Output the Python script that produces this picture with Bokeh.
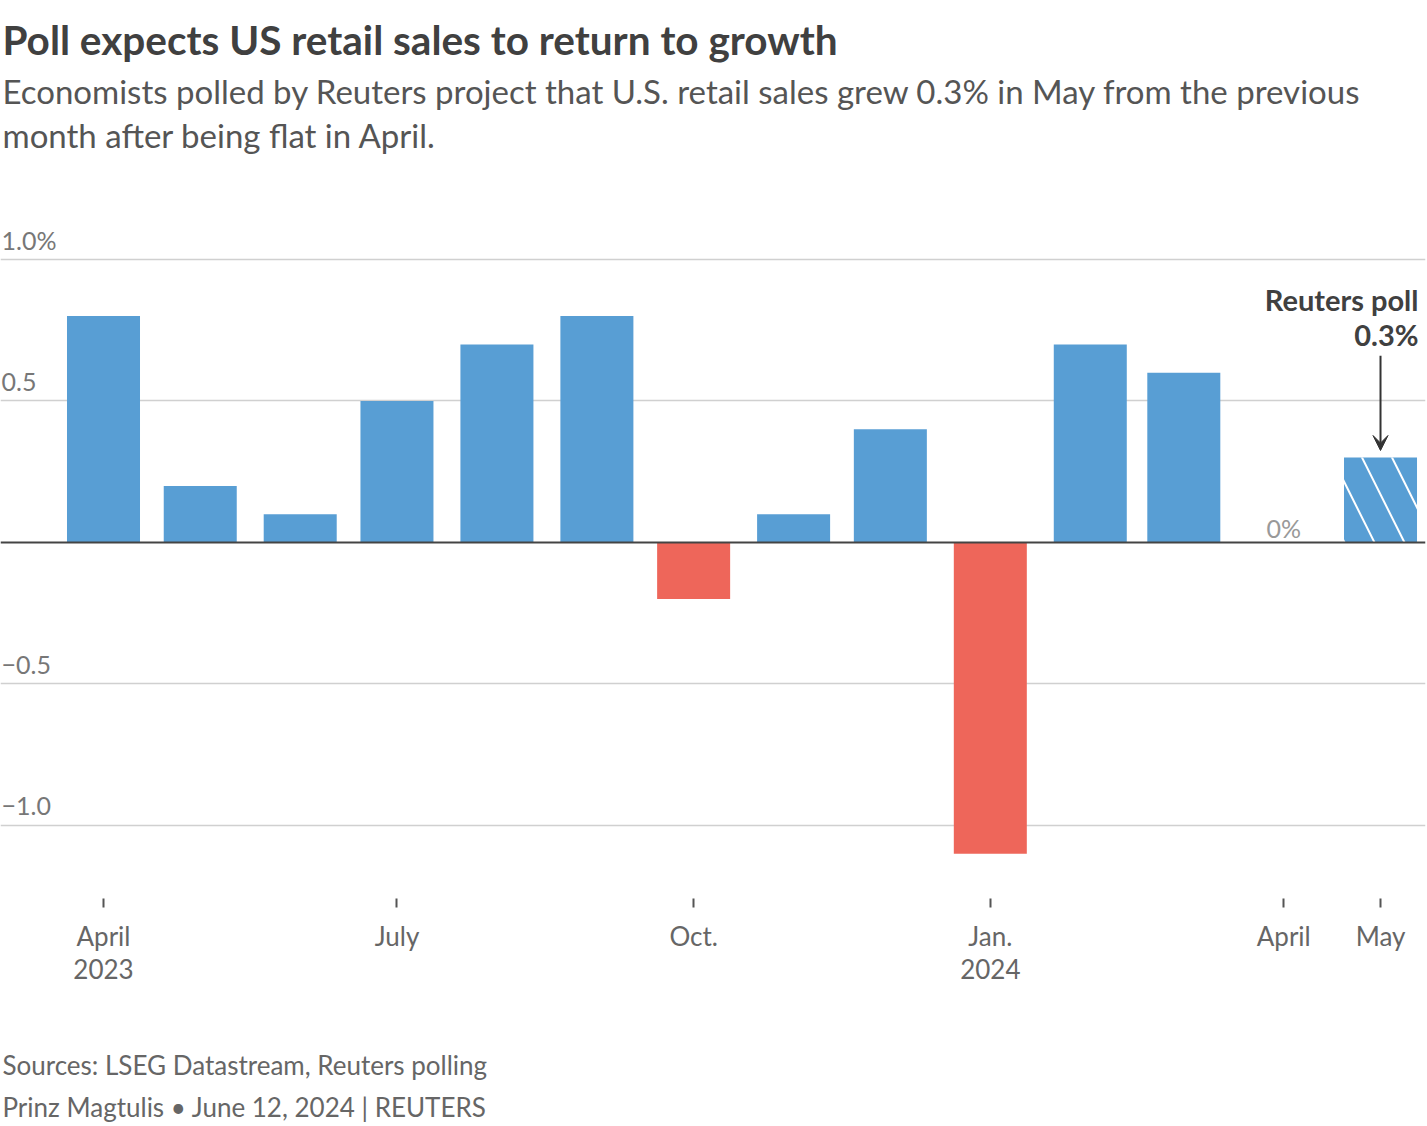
import pandas as pd
from bokeh.plotting import figure
from bokeh.layouts import column
from bokeh.models import ColumnDataSource, FixedTicker, Span, Label, Arrow, VeeHead, Range1d
from bokeh.core.properties import value
from bokeh.embed import file_html
from bokeh.resources import INLINE

# ---------------- data ----------------
months = ["2023-04", "2023-05", "2023-06", "2023-07", "2023-08", "2023-09", "2023-10",
          "2023-11", "2023-12", "2024-01", "2024-02", "2024-03", "2024-04"]
actual = [0.8, 0.2, 0.1, 0.5, 0.7, 0.8, -0.2, 0.1, 0.4, -1.1, 0.7, 0.6, 0.0]
poll_month = "2024-05"
poll_value = 0.3
y_ticks = [-1.0, -0.5, 0.5, 1.0]
y_tick_labels = ["\u22121.0", "\u22120.5", "0.5", "1.0%"]
x_tick_months = ["2023-04", "2023-07", "2023-10", "2024-01", "2024-04", "2024-05"]
x_tick_labels = ["April\n2023", "July", "Oct.", "Jan.\n2024", "April", "May"]

title = "Poll expects US retail sales to return to growth"
sub_lines = ["Economists polled by Reuters project that U.S. retail sales grew 0.3% in May from the previous",
             "month after being flat in April."]
source_lines = ["Sources: LSEG Datastream, Reuters polling",
                "Prinz Magtulis \u2022 June 12, 2024 | REUTERS"]

# ---------------- helpers ----------------
DAY = 86400000.0
def ms(m):
    return pd.Timestamp(m + "-01").value / 1e6

BLUE = "#589ed4"
RED = "#ee665a"
FONT = "Lato"
W = 1427

def text_panel(height, y_top):
    f = figure(width=W, height=height, output_backend="svg", toolbar_location=None,
               x_range=Range1d(0, W), y_range=Range1d(y_top + height, y_top),
               x_axis_location=None, y_axis_location=None, title=None,
               min_border_left=0, min_border_right=0, min_border_top=0, min_border_bottom=0)
    f.outline_line_color = None
    f.grid.visible = False
    f.background_fill_color = "white"
    f.border_fill_color = "white"
    return f

# ---------------- header ----------------
header = text_panel(225, 0)
header.text(x=[2], y=[38.8], text=[title], text_baseline="middle", text_align="left",
            text_font=value(FONT), text_font_style="bold", text_font_size="40.5px",
            text_color="#404040")
header.text(x=[2, 2], y=[90.2, 134.2], text=sub_lines, text_baseline="middle", text_align="left",
            text_font=value(FONT), text_font_size="33px", text_color="#555555")

# ---------------- main chart ----------------
xs = [ms(m) for m in months]
colors = [BLUE if v >= 0 else RED for v in actual]
src = ColumnDataSource(dict(x=xs, top=actual, color=colors))

x_start = ms("2023-04") - 31.94 * DAY
x_end = ms("2024-05") + 13.95 * DAY
bar_w = 22.64 * DAY

p = figure(width=W, height=775, output_backend="svg", toolbar_location=None,
           x_axis_type="datetime", y_axis_location=None,
           x_range=Range1d(x_start, x_end), y_range=Range1d(-1.258, 1.1201),
           min_border_left=0, min_border_right=2, min_border_top=0, min_border_bottom=102,
           title=None)
p.outline_line_color = None
p.background_fill_color = "white"
p.border_fill_color = "white"

p.xgrid.visible = False
p.ygrid.ticker = FixedTicker(ticks=y_ticks)
p.ygrid.grid_line_color = "#d0d0d0"
p.ygrid.grid_line_width = 1.5

p.vbar(x="x", top="top", bottom=0, width=bar_w, source=src,
       fill_color="color", line_color=None)
p.vbar(x=[ms(poll_month)], top=[poll_value], bottom=0, width=bar_w,
       fill_color=BLUE, line_color=None,
       hatch_pattern="\\", hatch_color="white", hatch_weight=2, hatch_scale=60)

p.add_layout(Span(location=0, dimension="width", line_color="#444444", line_width=2))

p.text(x=[x_start] * len(y_ticks), y=y_ticks, text=y_tick_labels,
       x_offset=1, y_offset=-19, text_baseline="middle", text_align="left",
       text_font=value(FONT), text_font_size="25px", text_color="#777777")

zx = [x for x, v in zip(xs, actual) if v == 0]
p.text(x=zx, y=[0] * len(zx), text=["0%"] * len(zx), y_offset=-14,
       text_baseline="middle", text_align="center",
       text_font=value(FONT), text_font_size="25px", text_color="#999999")

tick_ms = [ms(m) for m in x_tick_months]
p.xaxis.ticker = FixedTicker(ticks=tick_ms)
p.xaxis.major_label_overrides = {t: l for t, l in zip(tick_ms, x_tick_labels)}
p.xaxis.axis_line_color = None
p.xaxis.major_tick_line_color = "#555555"
p.xaxis.major_tick_line_width = 2
p.xaxis.major_tick_in = 0
p.xaxis.major_tick_out = 9
p.xaxis.minor_tick_line_color = None
p.xaxis.major_label_standoff = 12
p.xaxis.major_label_text_font = FONT
p.xaxis.major_label_text_font_size = "26px"
p.xaxis.major_label_text_color = "#666666"
p.xaxis.major_label_text_line_height = 1.06

p.add_layout(Arrow(end=VeeHead(size=15, fill_color="#333333", line_color="#333333"),
                   x_start=ms(poll_month), y_start=0.66,
                   x_end=ms(poll_month), y_end=poll_value + 0.025,
                   line_color="#333333", line_width=2))
p.add_layout(Label(x=ms(poll_month), y=0.8587, x_offset=38, text="Reuters poll",
                   text_align="right", text_baseline="middle",
                   text_font=FONT, text_font_style="bold", text_font_size="29px",
                   text_color="#404040"))
p.add_layout(Label(x=ms(poll_month), y=0.735, x_offset=38, text=f"{poll_value:.1f}%",
                   text_align="right", text_baseline="middle",
                   text_font=FONT, text_font_style="bold", text_font_size="29px",
                   text_color="#404040"))

# ---------------- footer ----------------
footer = text_panel(126, 1000)
footer.text(x=[2, 2], y=[1064.2, 1106.6], text=source_lines, text_baseline="middle",
            text_align="left", text_font=value(FONT), text_font_size="26px",
            text_color="#666666")

layout = column(header, p, footer, spacing=0)
open("out.html", "w").write(file_html(layout, INLINE))
